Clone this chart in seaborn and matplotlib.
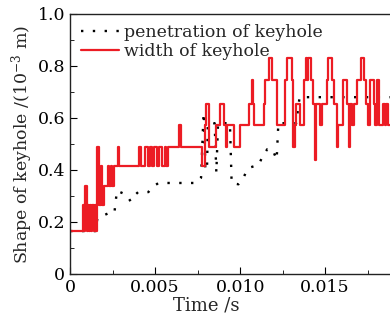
import numpy as np
import pandas as pd
import matplotlib
matplotlib.use("Agg")
import matplotlib.pyplot as plt
import matplotlib.ticker as mtick
import seaborn as sns

# time in ms, shape in 1e-3 m
pen_t = [0.0, 1.50, 1.60, 1.95, 2.30, 2.60, 2.75, 3.30, 3.55, 3.75, 4.00, 4.60, 4.85,
         5.20, 7.45, 7.70, 7.85, 7.90, 7.95, 8.05, 8.10, 8.50, 8.60, 8.70, 9.40, 9.50,
         9.90, 10.20, 10.40, 10.60, 11.10, 11.30, 11.60, 11.90, 12.15, 12.25, 12.75,
         13.30, 13.50, 18.90]
pen_v = [0.165, 0.165, 0.215, 0.225, 0.235, 0.235, 0.32, 0.305, 0.28, 0.30, 0.315, 0.315,
         0.335, 0.35, 0.35, 0.37, 0.62, 0.60, 0.40, 0.40, 0.58, 0.58, 0.39, 0.58, 0.58,
         0.35, 0.345, 0.37, 0.40, 0.41, 0.42, 0.45, 0.48, 0.48, 0.44, 0.58, 0.58, 0.58,
         0.68, 0.68]

wid_t = [0.00, 0.78, 0.84, 0.90, 0.96, 1.02, 1.10, 1.16, 1.24, 1.30, 1.38, 1.46, 1.52,
         1.57, 1.68, 1.80, 1.88, 1.98, 2.20, 2.28, 2.38, 2.46, 2.60, 2.84, 2.90,
         4.02, 4.18, 4.41, 4.57, 4.70, 4.84, 4.96, 5.10, 5.25, 5.39, 5.55, 5.65, 5.78,
         6.41, 6.50, 7.78, 7.94, 8.00, 8.18, 8.59, 8.84, 9.04, 9.14, 9.24, 9.63, 10.02,
         10.51, 10.67, 10.75, 10.80, 11.39, 11.49, 11.70, 11.90, 12.16, 12.65, 12.75,
         13.04, 13.10, 13.14, 13.22, 13.30, 13.50, 13.73, 13.85, 13.95, 14.00, 14.20,
         14.30, 14.38, 14.45, 14.70, 14.80, 15.10, 15.20, 15.40, 15.50, 15.70, 15.78,
         16.04, 16.30, 16.40, 16.48, 16.60, 16.70, 16.86, 17.10, 17.30, 17.40, 17.55,
         17.65, 17.85, 17.95, 18.04, 18.20, 18.40, 18.50, 18.60, 18.70, 18.90]
wid_v = [0.165, 0.265, 0.165, 0.34, 0.165, 0.265, 0.165, 0.265, 0.165, 0.265, 0.165,
         0.265, 0.165, 0.49, 0.265, 0.415, 0.265, 0.34, 0.415, 0.34, 0.415, 0.34, 0.415,
         0.49, 0.415, 0.49, 0.415, 0.49, 0.415, 0.49, 0.415, 0.49, 0.415, 0.49, 0.415,
         0.49, 0.415, 0.49, 0.573, 0.49, 0.415, 0.573, 0.655, 0.49, 0.573, 0.655, 0.573,
         0.49, 0.573, 0.49, 0.573, 0.655, 0.745, 0.655, 0.573, 0.655, 0.745, 0.83, 0.745,
         0.573, 0.745, 0.83, 0.745, 0.655, 0.49, 0.573, 0.655, 0.573, 0.745, 0.83, 0.745,
         0.83, 0.745, 0.655, 0.44, 0.655, 0.573, 0.655, 0.745, 0.83, 0.745, 0.655, 0.49,
         0.573, 0.745, 0.655, 0.49, 0.655, 0.573, 0.655, 0.745, 0.83, 0.745, 0.655, 0.573,
         0.745, 0.655, 0.573, 0.745, 0.573, 0.655, 0.573, 0.655, 0.573, 0.573]

sns.set_style("ticks")
plt.rcParams['font.family'] = ['DejaVu Serif']
plt.rcParams['mathtext.fontset'] = 'dejavuserif'

fig = plt.figure(figsize=(3.9, 3.25), dpi=100)
ax = fig.add_axes([0.18, 0.157, 0.82, 0.80])

sns.lineplot(x=np.array(pen_t) / 1000, y=pen_v, ax=ax, color='black', lw=1.7,
             linestyle=(0, (1, 4)), estimator=None, label='penetration of keyhole')
sns.lineplot(x=np.array(wid_t) / 1000, y=wid_v, ax=ax, color='#ec1c24', lw=1.6,
             drawstyle='steps-post', estimator=None, label='width of keyhole')

ax.set_xlim(0, 0.01882)
ax.set_ylim(0, 1.0)
ax.xaxis.set_major_locator(mtick.MultipleLocator(0.005))
ax.xaxis.set_minor_locator(mtick.MultipleLocator(0.0025))
ax.yaxis.set_major_locator(mtick.MultipleLocator(0.2))
ax.yaxis.set_minor_locator(mtick.MultipleLocator(0.1))
ax.xaxis.set_major_formatter(mtick.FuncFormatter(lambda v, p: '0' if v == 0 else f"{v:.3f}"))
ax.yaxis.set_major_formatter(mtick.FuncFormatter(lambda v, p: '0' if v == 0 else f"{v:.1f}"))
ax.tick_params(which='both', direction='in', labelsize=12.5, colors='black')
ax.tick_params(which='major', length=5)
ax.tick_params(which='minor', length=3)
ax.spines['right'].set_visible(False)
for s in ['left', 'bottom', 'top']:
    ax.spines[s].set_linewidth(1.0)
    ax.spines[s].set_color('#222222')

ax.set_xlabel("Time /s", fontsize=13)
ax.xaxis.set_label_coords(0.425, -0.085)
ax.set_ylabel("Shape of keyhole /(10$^{-3}$ m)", fontsize=12.5, labelpad=2)

ax.legend(loc='upper left', frameon=False, fontsize=12.5, handlelength=2.2,
          handletextpad=0.3, borderaxespad=0.2, labelspacing=0.1)

fig.savefig("out.png", dpi=100)
